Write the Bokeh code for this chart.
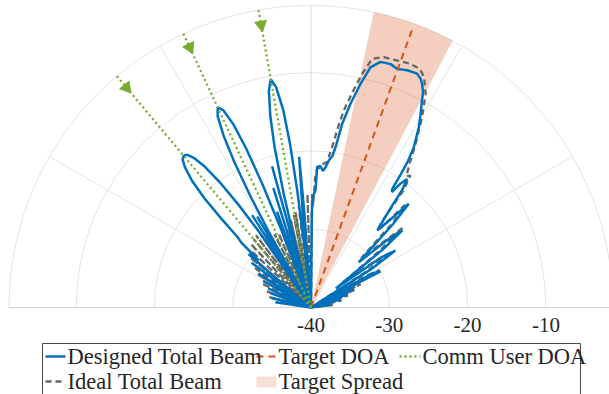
import numpy as np
from bokeh.plotting import figure
from bokeh.models import Range1d
from bokeh.embed import file_html
from bokeh.resources import INLINE
from bokeh.core.properties import value

# ---------------- data ----------------
R_MIN, R_MAX = -40.0, -1.43          # radial limits (dB)
R_TICKS = [-40, -30, -20, -10]
R_TICK_LABELS = ["-40", "-30", "-20", "-10"]
THETA_GRID = [-60, -30, 0, 30, 60]   # degrees, clockwise from top

target_doa = 20.0
target_spread = (12.0, 28.0)
comm_doas = [-40.0, -25.0, -10.0]

designed_theta = [
    -90, -84, -81.5, -79, -76.5, -73.5, -70.5, -68, -66, -63.5, -61, -59, -57, -55,
    -53, -51, -49.5, -48, -47,
    -46.2, -45.3, -44.3, -43.2, -42, -41, -40, -39, -38, -37, -36, -35.2, -34.5, -34, -33.5,
    -32.5, -31.5, -30.6,
    -30, -29.3, -28.6, -27.8, -27, -26, -25, -24, -23, -22.2, -21.5, -20.8, -20.3,
    -19.5, -18.5, -17.5, -16.5, -15.4, -14.5,
    -14, -13.5, -12.8, -12, -11, -10, -9, -8, -7.3, -6.7, -6.2, -5.8,
    -5, -4.5, -4, -3.2,
    -2, 0, 0.5, 0.8, 1.5, 2.2, 2.5, 3.8, 5, 5.9, 6.9, 8.0, 8.7, 9.64, 10.97, 12.5, 13.9,
    15.8, 18.1, 19.85, 22.1, 24.4, 25.6, 26.4, 27.5, 28.2, 29.7, 30.9, 32.7, 33.5,
    34, 34.4, 35, 35.8, 36.8, 37.8, 38.8, 40.7,
    42, 43.3, 44.5, 46.5, 48.5, 49.8, 51, 52.6, 54.5, 56, 57.5, 59, 61, 62.5, 64, 66, 68,
    70, 72, 75, 78, 82, 86, 90,
]
designed_db = [
    -40, -40, -35.4, -40, -34.8, -40, -34.5, -40, -34, -40, -33, -40, -32, -40,
    -30.5, -38, -29.5, -31, -27.8,
    -27, -24, -20.5, -17.8, -16, -15, -14.7, -14.9, -15.8, -17.5, -20.5, -24, -28, -33, -40,
    -26, -40, -26.5,
    -40, -30, -24, -19, -15.5, -12.8, -11.8, -12.4, -14.5, -18, -23, -30, -40,
    -27, -40, -24, -40, -21.3, -40,
    -32, -25, -19, -15, -11.8, -10.4, -11.5, -14.5, -19, -25, -32, -40,
    -28, -20.7, -28, -40,
    -40, -40, -28, -26, -25.5, -25, -22, -21.9, -22.5, -22, -21.1, -20.5, -19.3, -16.2,
    -13.5, -10.7, -8.4,
    -7.4, -7.3, -7.6, -7.3, -7.2, -7.6, -8.1, -9, -10, -11.8, -13.2, -15.7, -17.5,
    -19.5, -21.6, -22, -20.5, -19.5, -21, -24, -27,
    -25, -21.8, -25, -31.6, -27, -24.7, -28, -36, -29, -27, -31, -40, -31, -30, -40, -34, -40,
    -35, -40, -36, -40, -37.5, -40, -40,
]

ideal_theta = [
    -90, -84, -80, -77, -76, -73, -70, -67, -64, -61, -58, -56, -54.8, -52.5, -50.5, -48.5,
    -46.5, -45, -43.5, -41.5, -40, -38.5, -37.3, -36, -34.5, -33, -31.8, -30.5, -29.3, -28,
    -26.5, -25, -23.6, -22.3, -21, -19.8, -18.3, -17, -15.8, -14.5, -13, -11.8, -10.5, -9.8,
    -9.2, -8, -6.9, -5.8, -4.6, -3.3, -1.8, -0.5,
    0.6, 1.2, 1.8, 2.5, 4, 5.2, 6.3, 7.5, 8.5, 9.45, 10.9, 12.36, 13.8, 16.2, 19.1, 21.9,
    24.5, 26.1, 28.2, 30.3, 32.6, 34.5, 36, 37, 38.3, 39.6, 41, 42.5, 44, 45.5, 47,
    49, 50.5, 52, 54, 55.5, 57, 58.5, 60, 61.5, 63, 65, 66.5, 68, 70, 72, 74.5, 77, 80, 83,
    86, 90,
]
ideal_db = [
    -40, -40, -36, -40, -34.5, -40, -34, -40, -33, -40, -32, -40, -31, -40, -30, -40,
    -29.5, -40, -28.8, -40, -28.6, -40, -28.4, -40, -28.6, -40, -29, -40, -29.4, -40,
    -29.5, -40, -29.7, -40, -30, -40, -30.3, -40, -29.5, -40, -28.5, -40, -28, -40,
    -27.7, -40, -27, -40, -25.4, -40, -25.5, -40,
    -25.5, -27, -23.5, -22.3, -22, -21.5, -21.3, -19.35, -16.8, -14.5, -12, -9.45, -7.3,
    -6.7, -6.6, -6.4,
    -6.5, -7.2, -9, -11.9, -15.2, -17.8, -19.3, -18.9, -21, -26, -27, -22.2, -25, -31,
    -29, -24.5, -29, -35, -30, -27.5, -32, -40, -32, -30, -36, -33, -40, -34, -40, -35,
    -40, -36, -40, -37, -40, -40,
]

# ---------------- geometry helpers ----------------
PX_PER_DB = 302.0 / (R_MAX - R_MIN)
R_OUT = (R_MAX - R_MIN) * PX_PER_DB
CX, CY = 310.5, 307.0   # pixel position of the pole


def polar_xy(theta_deg, db):
    t = np.radians(np.asarray(theta_deg, dtype=float))
    r = (np.clip(np.asarray(db, dtype=float), R_MIN, R_MAX) - R_MIN) * PX_PER_DB
    return r * np.sin(t), r * np.cos(t)


W, H = 609, 394
p = figure(width=W, height=H, output_backend="svg", toolbar_location=None,
           x_range=Range1d(-CX, W - CX), y_range=Range1d(CY - H, CY),
           x_axis_location=None, y_axis_location=None, min_border=0,
           outline_line_color=None, background_fill_color="white",
           border_fill_color="white")
p.grid.visible = False

GRID = "#e4e4e4"
# circles
for rt in R_TICKS[1:]:
    p.arc(x=0, y=0, radius=(rt - R_MIN) * PX_PER_DB, start_angle=0, end_angle=np.pi,
          line_color=GRID, line_width=1)
p.arc(x=0, y=0, radius=R_OUT, start_angle=0, end_angle=np.pi, line_color=GRID, line_width=1)
# spokes
for tg in THETA_GRID:
    gx, gy = polar_xy([tg, tg], [R_MIN, R_MAX])
    p.line(gx, gy, line_color=GRID if tg != 0 else "#dadada", line_width=1)
p.line([-R_OUT, R_OUT], [0, 0], line_color="#d4d4d4", line_width=1.2)

# target spread wedge
wt = np.linspace(target_spread[0], target_spread[1], 40)
wx, wy = polar_xy(wt, np.full_like(wt, R_MAX))
p.patch(np.r_[0, wx, 0], np.r_[0, wy, 0], fill_color="#D95319", fill_alpha=0.28,
        line_color=None)

# beams
ix, iy = polar_xy(ideal_theta, ideal_db)
p.line(ix, iy, line_color="#666666", line_width=2.3, line_dash="6 4")
dx, dy = polar_xy(designed_theta, designed_db)
p.line(dx, dy, line_color="#0072BD", line_width=2.5)

# target DOA
tx, ty = polar_xy([target_doa, target_doa], [R_MIN, R_MIN + 298 / PX_PER_DB])
p.line(tx, ty, line_color="#D95319", line_width=2, line_dash="7 5")

# comm users
for cd in comm_doas:
    cx, cy = polar_xy([cd, cd], [R_MIN, R_MAX])
    p.line(cx, cy, line_color="#77AC30", line_width=2.3, line_dash="2 3")
    ax, ay = polar_xy([cd], [R_MIN + 287 / PX_PER_DB])
    p.scatter(ax, ay, marker="triangle", size=12, angle=np.pi - np.radians(cd),
              fill_color="#77AC30", line_color="#77AC30")

# radial tick labels
rx = [(rt - R_MIN) * PX_PER_DB for rt in R_TICKS]
p.text(x=rx, y=[CY - 324] * len(rx), text=R_TICK_LABELS,
       text_font=value("Liberation Serif"),
       text_font_size=value("21px"), text_align="center", text_baseline="middle",
       text_color="#262626")


# legend (manual)
def L(xi):
    return xi - CX


def T(yi):
    return CY - yi


p.quad(left=L(42), right=L(580), top=T(343), bottom=T(420), fill_color="white",
       line_color="#4a4a4a", line_width=1)
r1, r2 = T(356), T(381)
p.line([L(45), L(65)], [r1, r1], line_color="#0072BD", line_width=2.5)
p.line([L(256), L(276)], [r1, r1], line_color="#D95319", line_width=2, line_dash="7 5")
p.line([L(399), L(420)], [r1, r1], line_color="#77AC30", line_width=2.3, line_dash="2 3")
p.line([L(45), L(65)], [r2, r2], line_color="#666666", line_width=2.3, line_dash="6 4")
p.quad(left=L(256), right=L(276), top=T(376), bottom=T(387), fill_color="#D95319",
       fill_alpha=0.18, line_color=None)
p.text(x=[L(67), L(278), L(422), L(67), L(278)], y=[r1, r1, r1, r2, r2],
       text=["Designed Total Beam", "Target DOA", "Comm User DOA", "Ideal Total Beam",
             "Target Spread"],
       text_font=value("Liberation Serif"), text_font_size=value("22.5px"),
       text_align="left", text_baseline="middle", text_color="#262626")

open("out.html", "w").write(file_html(p, INLINE))
